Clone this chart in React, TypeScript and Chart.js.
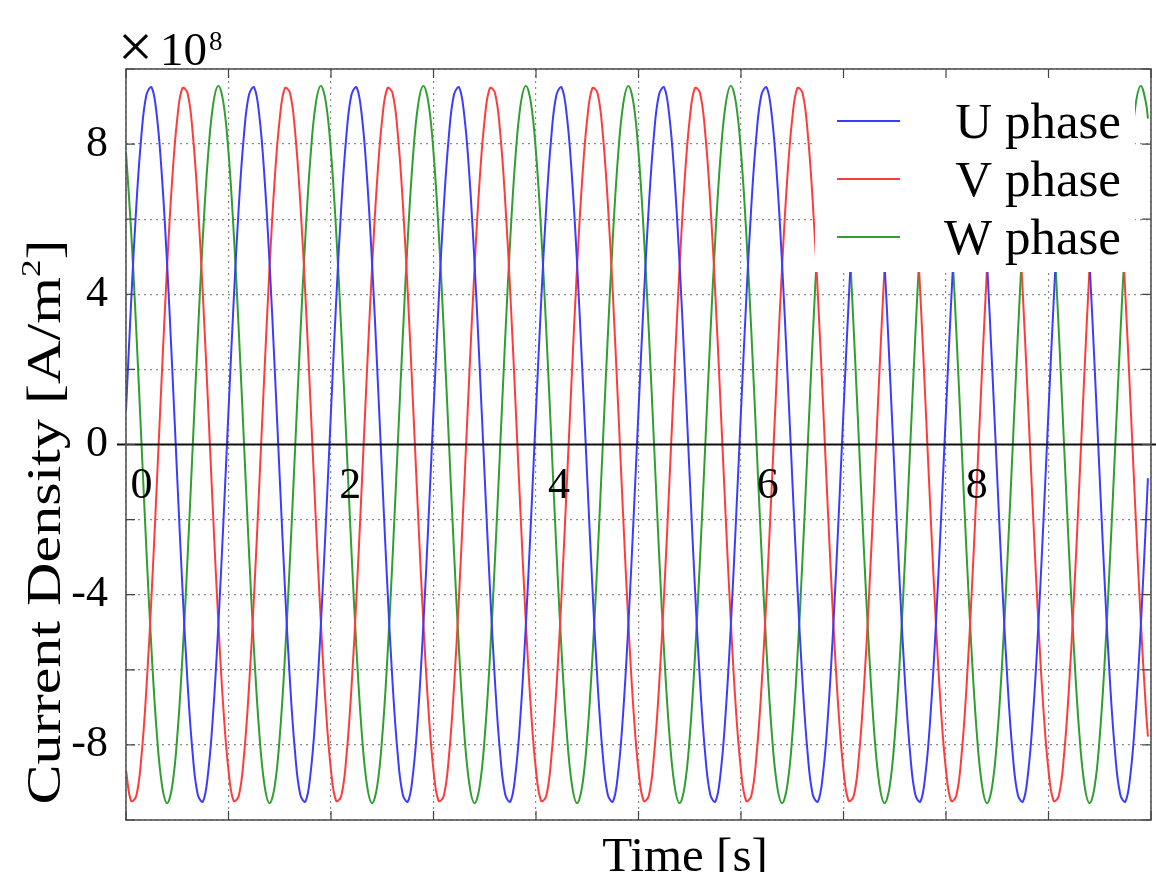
import React, { useEffect, useRef } from 'react';
import { Chart, registerables } from 'chart.js';

Chart.register(...registerables);

// ---------- data ----------
const times = [
  0, 0.05, 0.1, 0.15, 0.2, 0.25, 0.3, 0.35, 0.4, 0.45, 0.5, 0.55, 0.6, 0.65, 0.7, 0.75, 0.8, 0.85, 0.9, 0.95,
  1, 1.05, 1.1, 1.15, 1.2, 1.25, 1.3, 1.35, 1.4, 1.45, 1.5, 1.55, 1.6, 1.65, 1.7, 1.75, 1.8, 1.85, 1.9, 1.95,
  2, 2.05, 2.1, 2.15, 2.2, 2.25, 2.3, 2.35, 2.4, 2.45, 2.5, 2.55, 2.6, 2.65, 2.7, 2.75, 2.8, 2.85, 2.9, 2.95,
  3, 3.05, 3.1, 3.15, 3.2, 3.25, 3.3, 3.35, 3.4, 3.45, 3.5, 3.55, 3.6, 3.65, 3.7, 3.75, 3.8, 3.85, 3.9, 3.95,
  4, 4.05, 4.1, 4.15, 4.2, 4.25, 4.3, 4.35, 4.4, 4.45, 4.5, 4.55, 4.6, 4.65, 4.7, 4.75, 4.8, 4.85, 4.9, 4.95,
  5, 5.05, 5.1, 5.15, 5.2, 5.25, 5.3, 5.35, 5.4, 5.45, 5.5, 5.55, 5.6, 5.65, 5.7, 5.75, 5.8, 5.85, 5.9, 5.95,
  6, 6.05, 6.1, 6.15, 6.2, 6.25, 6.3, 6.35, 6.4, 6.45, 6.5, 6.55, 6.6, 6.65, 6.7, 6.75, 6.8, 6.85, 6.9, 6.95,
  7, 7.05, 7.1, 7.15, 7.2, 7.25, 7.3, 7.35, 7.4, 7.45, 7.5, 7.55, 7.6, 7.65, 7.7, 7.75, 7.8, 7.85, 7.9, 7.95,
  8, 8.05, 8.1, 8.15, 8.2, 8.25, 8.3, 8.35, 8.4, 8.45, 8.5, 8.55, 8.6, 8.65, 8.7, 8.75, 8.8, 8.85, 8.9, 8.95,
  9, 9.05, 9.1, 9.15, 9.2, 9.25, 9.3, 9.35, 9.4, 9.45, 9.5, 9.55, 9.6, 9.65, 9.7, 9.75, 9.8, 9.85, 9.9, 9.95,
  9.97,
];

const uPhase = [
  0.9, 3.79, 6.32, 8.22, 9.32, 9.51, 8.77, 7.16, 4.86, 2.08, -0.9, -3.79, -6.32, -8.22, -9.32, -9.51, -8.77, -7.16, -4.86, -2.08,
  0.9, 3.79, 6.32, 8.22, 9.32, 9.51, 8.77, 7.16, 4.86, 2.08, -0.9, -3.79, -6.32, -8.22, -9.32, -9.51, -8.77, -7.16, -4.86, -2.08,
  0.9, 3.79, 6.32, 8.22, 9.32, 9.51, 8.77, 7.16, 4.86, 2.08, -0.9, -3.79, -6.32, -8.22, -9.32, -9.51, -8.77, -7.16, -4.86, -2.08,
  0.9, 3.79, 6.32, 8.22, 9.32, 9.51, 8.77, 7.16, 4.86, 2.08, -0.9, -3.79, -6.32, -8.22, -9.32, -9.51, -8.77, -7.16, -4.86, -2.08,
  0.9, 3.79, 6.32, 8.22, 9.32, 9.51, 8.77, 7.16, 4.86, 2.08, -0.9, -3.79, -6.32, -8.22, -9.32, -9.51, -8.77, -7.16, -4.86, -2.08,
  0.9, 3.79, 6.32, 8.22, 9.32, 9.51, 8.77, 7.16, 4.86, 2.08, -0.9, -3.79, -6.32, -8.22, -9.32, -9.51, -8.77, -7.16, -4.86, -2.08,
  0.9, 3.79, 6.32, 8.22, 9.32, 9.51, 8.77, 7.16, 4.86, 2.08, -0.9, -3.79, -6.32, -8.22, -9.32, -9.51, -8.77, -7.16, -4.86, -2.08,
  0.9, 3.79, 6.32, 8.22, 9.32, 9.51, 8.77, 7.16, 4.86, 2.08, -0.9, -3.79, -6.32, -8.22, -9.32, -9.51, -8.77, -7.16, -4.86, -2.08,
  0.9, 3.79, 6.32, 8.22, 9.32, 9.51, 8.77, 7.16, 4.86, 2.08, -0.9, -3.79, -6.32, -8.22, -9.32, -9.51, -8.77, -7.16, -4.86, -2.08,
  0.9, 3.79, 6.32, 8.22, 9.32, 9.51, 8.77, 7.16, 4.86, 2.08, -0.9, -3.79, -6.32, -8.22, -9.32, -9.51, -8.77, -7.16, -4.86, -2.08,
  -0.9,
];

const vPhase = [
  -8.68, -9.49, -9.36, -8.32, -6.46, -3.98, -1.1, 1.89, 4.69, 7.03, 8.68, 9.49, 9.36, 8.32, 6.46, 3.98, 1.1, -1.89, -4.69, -7.03,
  -8.68, -9.49, -9.36, -8.32, -6.46, -3.98, -1.1, 1.89, 4.69, 7.03, 8.68, 9.49, 9.36, 8.32, 6.46, 3.98, 1.1, -1.89, -4.69, -7.03,
  -8.68, -9.49, -9.36, -8.32, -6.46, -3.98, -1.1, 1.89, 4.69, 7.03, 8.68, 9.49, 9.36, 8.32, 6.46, 3.98, 1.1, -1.89, -4.69, -7.03,
  -8.68, -9.49, -9.36, -8.32, -6.46, -3.98, -1.1, 1.89, 4.69, 7.03, 8.68, 9.49, 9.36, 8.32, 6.46, 3.98, 1.1, -1.89, -4.69, -7.03,
  -8.68, -9.49, -9.36, -8.32, -6.46, -3.98, -1.1, 1.89, 4.69, 7.03, 8.68, 9.49, 9.36, 8.32, 6.46, 3.98, 1.1, -1.89, -4.69, -7.03,
  -8.68, -9.49, -9.36, -8.32, -6.46, -3.98, -1.1, 1.89, 4.69, 7.03, 8.68, 9.49, 9.36, 8.32, 6.46, 3.98, 1.1, -1.89, -4.69, -7.03,
  -8.68, -9.49, -9.36, -8.32, -6.46, -3.98, -1.1, 1.89, 4.69, 7.03, 8.68, 9.49, 9.36, 8.32, 6.46, 3.98, 1.1, -1.89, -4.69, -7.03,
  -8.68, -9.49, -9.36, -8.32, -6.46, -3.98, -1.1, 1.89, 4.69, 7.03, 8.68, 9.49, 9.36, 8.32, 6.46, 3.98, 1.1, -1.89, -4.69, -7.03,
  -8.68, -9.49, -9.36, -8.32, -6.46, -3.98, -1.1, 1.89, 4.69, 7.03, 8.68, 9.49, 9.36, 8.32, 6.46, 3.98, 1.1, -1.89, -4.69, -7.03,
  -8.68, -9.49, -9.36, -8.32, -6.46, -3.98, -1.1, 1.89, 4.69, 7.03, 8.68, 9.49, 9.36, 8.32, 6.46, 3.98, 1.1, -1.89, -4.69, -7.03,
  -7.78,
];

const wPhase = [
  7.78, 5.69, 3.05, 0.1, -2.86, -5.53, -7.67, -9.05, -9.55, -9.11, -7.78, -5.69, -3.05, -0.1, 2.86, 5.53, 7.67, 9.05, 9.55, 9.11,
  7.78, 5.69, 3.05, 0.1, -2.86, -5.53, -7.67, -9.05, -9.55, -9.11, -7.78, -5.69, -3.05, -0.1, 2.86, 5.53, 7.67, 9.05, 9.55, 9.11,
  7.78, 5.69, 3.05, 0.1, -2.86, -5.53, -7.67, -9.05, -9.55, -9.11, -7.78, -5.69, -3.05, -0.1, 2.86, 5.53, 7.67, 9.05, 9.55, 9.11,
  7.78, 5.69, 3.05, 0.1, -2.86, -5.53, -7.67, -9.05, -9.55, -9.11, -7.78, -5.69, -3.05, -0.1, 2.86, 5.53, 7.67, 9.05, 9.55, 9.11,
  7.78, 5.69, 3.05, 0.1, -2.86, -5.53, -7.67, -9.05, -9.55, -9.11, -7.78, -5.69, -3.05, -0.1, 2.86, 5.53, 7.67, 9.05, 9.55, 9.11,
  7.78, 5.69, 3.05, 0.1, -2.86, -5.53, -7.67, -9.05, -9.55, -9.11, -7.78, -5.69, -3.05, -0.1, 2.86, 5.53, 7.67, 9.05, 9.55, 9.11,
  7.78, 5.69, 3.05, 0.1, -2.86, -5.53, -7.67, -9.05, -9.55, -9.11, -7.78, -5.69, -3.05, -0.1, 2.86, 5.53, 7.67, 9.05, 9.55, 9.11,
  7.78, 5.69, 3.05, 0.1, -2.86, -5.53, -7.67, -9.05, -9.55, -9.11, -7.78, -5.69, -3.05, -0.1, 2.86, 5.53, 7.67, 9.05, 9.55, 9.11,
  7.78, 5.69, 3.05, 0.1, -2.86, -5.53, -7.67, -9.05, -9.55, -9.11, -7.78, -5.69, -3.05, -0.1, 2.86, 5.53, 7.67, 9.05, 9.55, 9.11,
  7.78, 5.69, 3.05, 0.1, -2.86, -5.53, -7.67, -9.05, -9.55, -9.11, -7.78, -5.69, -3.05, -0.1, 2.86, 5.53, 7.67, 9.05, 9.55, 9.11,
  8.68,
];

const seriesNames = ['U phase', 'V phase', 'W phase'];
const seriesColors = ['#3c3cff', '#ff3c3c', '#2f9f2f'];
const xGridValues = [0, 1, 2, 3, 4, 5, 6, 7, 8, 9, 10];
const xTickLabels = [0, 2, 4, 6, 8];
const yGridValues = [-10, -8, -6, -4, -2, 0, 2, 4, 6, 8, 10];
const yTickLabels = [-8, -4, 0, 4, 8];
const xTitle = 'Time [s]';
const yTitleParts = ['Current Density [A/m', '2', ']'];
const scaleTimes = '×';
const scaleBase = '10';
const scaleExponent = '8';

const SERIF = "'Liberation Serif', 'Times New Roman', serif";

const decorPlugin = {
  id: 'decor',
  afterDatasetsDraw(chart: any) {
    const { ctx, chartArea: a, scales } = chart;
    const yS = scales.y;
    ctx.save();
    // zero line
    const y0 = yS.getPixelForValue(0);
    ctx.strokeStyle = '#111';
    ctx.lineWidth = 2.2;
    ctx.beginPath();
    ctx.moveTo(a.left - 9, y0);
    ctx.lineTo(chart.width, y0);
    ctx.stroke();

    // legend box (opaque)
    const boxL = a.right - 336;
    const boxR = a.right - 16;
    const boxB = a.top + 203;
    ctx.fillStyle = '#ffffff';
    ctx.fillRect(boxL, a.top + 1, boxR - boxL, boxB - a.top - 1);

    const ds = chart.data.datasets;
    ctx.font = `51px ${SERIF}`;
    ctx.textAlign = 'right';
    ctx.textBaseline = 'alphabetic';
    for (let i = 0; i < ds.length; i++) {
      const rowY = a.top + 52 + i * 58;
      ctx.strokeStyle = ds[i].borderColor;
      ctx.lineWidth = 2;
      ctx.beginPath();
      ctx.moveTo(boxL + 22, rowY);
      ctx.lineTo(boxL + 85, rowY);
      ctx.stroke();
      ctx.fillStyle = '#000';
      ctx.fillText(ds[i].label, boxR - 14, rowY + 17);
    }
    ctx.restore();
  },
  afterDraw(chart: any) {
    const { ctx, chartArea: a, scales } = chart;
    const xS = scales.x;
    const yS = scales.y;
    ctx.save();
    // frame
    ctx.strokeStyle = '#555';
    ctx.lineWidth = 1.6;
    ctx.strokeRect(a.left, a.top, a.right - a.left, a.bottom - a.top);
    // inward ticks
    ctx.strokeStyle = '#444';
    ctx.lineWidth = 1.2;
    ctx.beginPath();
    xGridValues.forEach((v) => {
      const px = xS.getPixelForValue(v);
      ctx.moveTo(px, a.bottom);
      ctx.lineTo(px, a.bottom - 9);
      ctx.moveTo(px, a.top);
      ctx.lineTo(px, a.top + 9);
    });
    yGridValues.forEach((v) => {
      const py = yS.getPixelForValue(v);
      ctx.moveTo(a.left, py);
      ctx.lineTo(a.left + 9, py);
      ctx.moveTo(a.right, py);
      ctx.lineTo(a.right - 9, py);
    });
    ctx.stroke();

    ctx.fillStyle = '#000';
    ctx.textBaseline = 'alphabetic';
    ctx.textAlign = 'left';
    // multiplier label
    ctx.font = `62px ${SERIF}`;
    ctx.fillText(scaleTimes, a.left - 8, a.top - 2);
    ctx.font = `47px ${SERIF}`;
    ctx.fillText(scaleBase, a.left + 34, a.top - 4);
    const wBase = ctx.measureText(scaleBase).width;
    ctx.font = `27px ${SERIF}`;
    ctx.fillText(scaleExponent, a.left + 34 + wBase + 2, a.top - 19);

    // x title
    ctx.font = `49px ${SERIF}`;
    ctx.textAlign = 'center';
    ctx.fillText(xTitle, 685, chart.height - 1);

    // y title (rotated, stretched along its length)
    ctx.save();
    ctx.translate(60, 522);
    ctx.rotate(-Math.PI / 2);
    ctx.font = `48px ${SERIF}`;
    const w1 = ctx.measureText(yTitleParts[0]).width;
    const w3 = ctx.measureText(yTitleParts[2]).width;
    ctx.font = `28px ${SERIF}`;
    const w2 = ctx.measureText(yTitleParts[1]).width;
    const total = w1 + w2 + w3;
    const stretch = 565 / total;
    ctx.scale(stretch, 1);
    ctx.textAlign = 'left';
    const x0 = -total / 2;
    ctx.font = `48px ${SERIF}`;
    ctx.fillText(yTitleParts[0], x0, 0);
    ctx.font = `28px ${SERIF}`;
    ctx.fillText(yTitleParts[1], x0 + w1, -20);
    ctx.font = `48px ${SERIF}`;
    ctx.fillText(yTitleParts[2], x0 + w1 + w2, 0);
    ctx.restore();

    ctx.restore();
  },
};

export default function App() {
  const canvasRef = useRef<HTMLCanvasElement | null>(null);

  useEffect(() => {
    const canvas = canvasRef.current;
    if (!canvas) return;
    const mk = (vals: number[]) => times.map((t, i) => ({ x: t, y: vals[i] }));
    const seriesValues = [uPhase, vPhase, wPhase];
    const chart = new Chart(canvas, {
      type: 'line',
      data: {
        datasets: seriesNames.map((name, i) => ({
          label: name,
          data: mk(seriesValues[i]),
          borderColor: seriesColors[i],
          backgroundColor: seriesColors[i],
          borderWidth: 2,
          pointRadius: 0,
          tension: 0.4,
          fill: false,
          xAxisID: 'x',
          yAxisID: 'y',
        })),
      },
      options: {
        animation: false,
        responsive: false,
        devicePixelRatio: 1,
        layout: { padding: { top: 69, right: 5, left: 0, bottom: 0 } },
        plugins: {
          legend: { display: false },
          tooltip: { enabled: false },
          title: { display: false },
        },
        scales: {
          x: {
            type: 'linear',
            position: 'bottom',
            min: 0,
            max: 10,
            afterBuildTicks: (s: any) => {
              s.ticks = xGridValues.map((v) => ({ value: v }));
            },
            grid: { color: '#8a8a8a', lineWidth: 1.2, drawTicks: false },
            border: { display: false, dash: [2, 4] },
            ticks: { display: false },
            afterFit: (s: any) => {
              s.height = 52;
            },
          },
          x2: {
            type: 'linear',
            axis: 'x',
            position: { y: 0 },
            min: -0.148,
            max: 9.67,
            afterBuildTicks: (s: any) => {
              s.ticks = xTickLabels.map((v) => ({ value: v }));
            },
            grid: { display: false, drawTicks: false },
            border: { display: false },
            ticks: {
              z: 1,
              autoSkip: false,
              maxRotation: 0,
              padding: 16,
              color: '#000',
              font: { family: SERIF, size: 44 },
              callback: (v: any) => String(v),
            },
          },
          y: {
            type: 'linear',
            position: 'left',
            min: -10,
            max: 10,
            afterBuildTicks: (s: any) => {
              s.ticks = yGridValues.map((v) => ({ value: v }));
            },
            grid: { color: '#8a8a8a', lineWidth: 1.2, drawTicks: false },
            border: { display: false, dash: [2, 4] },
            ticks: {
              padding: 18,
              color: '#000',
              font: { family: SERIF, size: 44 },
              callback: (v: any) => (yTickLabels.includes(Number(v)) ? String(v) : ''),
            },
            afterFit: (s: any) => {
              s.width = 126;
            },
          },
        },
      },
      plugins: [decorPlugin],
    } as any);
    return () => chart.destroy();
  }, []);

  return (
    <div style={{ position: 'absolute', left: 0, top: 0, width: 1156, height: 872, background: '#fff' }}>
      <canvas ref={canvasRef} width={1156} height={872} style={{ display: 'block' }} />
    </div>
  );
}
